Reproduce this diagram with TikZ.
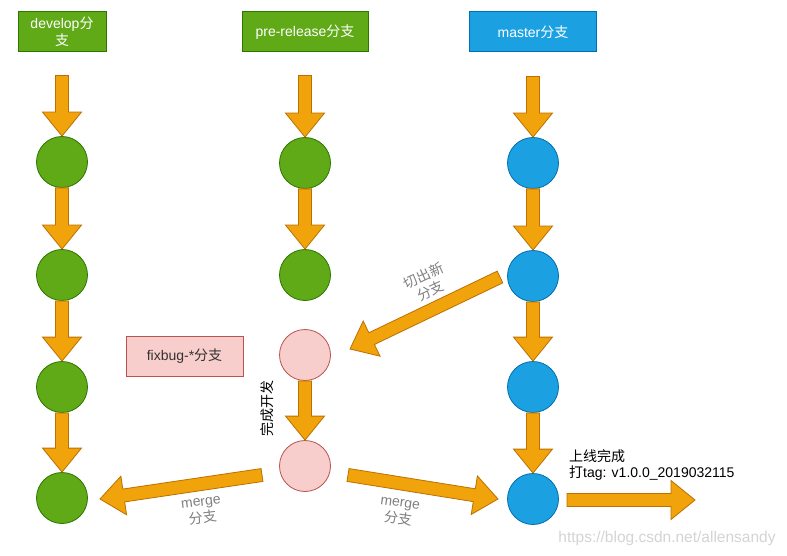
\documentclass[tikz,border=0pt]{standalone}
\usepackage{fontspec}
\setmainfont{Liberation Sans}
\newfontfamily\cjk{Noto Sans CJK SC}
\usetikzlibrary{calc}
\definecolor{gfill}{HTML}{60A917}
\definecolor{gline}{HTML}{2D7600}
\definecolor{bfill}{HTML}{1BA1E2}
\definecolor{bline}{HTML}{006EAF}
\definecolor{pfill}{HTML}{F8CECC}
\definecolor{pline}{HTML}{B85450}
\definecolor{ofill}{HTML}{F0A30A}
\definecolor{oline}{HTML}{BD7000}
\definecolor{lgray}{HTML}{808080}
\definecolor{wmark}{HTML}{D4D4D4}
\tikzset{
  txt/.style={font=\fontsize{14}{16.5}\selectfont, inner sep=0pt, align=center},
  header/.style={txt, minimum height=40pt, text=white, line width=1pt},
  greenhdr/.style={header, fill=gfill, draw=gline},
  bluehdr/.style={header, fill=bfill, draw=bline},
  commit/.style={circle, minimum size=51pt, inner sep=0pt, line width=0.8pt},
  gc/.style={commit, fill=gfill, draw=gline},
  bc/.style={commit, fill=bfill, draw=bline},
  pc/.style={commit, fill=pfill, draw=pline},
  barrowstyle/.style={fill=ofill, draw=oline, line width=0.8pt, line join=miter},
  glabel/.style={txt, text=lgray},
}
% block arrow from #2 to #3 (tip at #3)
\newcommand\barrow[3][]{%
  \coordinate (ba-b) at ($(#3)!24pt!(#2)$);
  \draw[barrowstyle,#1]
    ($(#2)!6.5pt!90:(#3)$) -- ($(ba-b)!6.5pt!90:(#3)$) -- ($(ba-b)!19.5pt!90:(#3)$)
    -- (#3) -- ($(ba-b)!19.5pt!-90:(#3)$) -- ($(ba-b)!6.5pt!-90:(#3)$)
    -- ($(#2)!6.5pt!-90:(#3)$) -- cycle;}
\begin{document}
\begin{tikzpicture}[x=1pt,y=-1pt]
\useasboundingbox (0,0) rectangle (787,556);
\fill[white] (0,0) rectangle (787,556);
% headers
\node[greenhdr, minimum width=88pt] (dh) at (62,32) {develop{\cjk 分}\\{\cjk 支}};
\node[greenhdr, minimum width=126pt] (ph) at (305,32) {pre-release{\cjk 分支}};
\node[bluehdr, minimum width=127pt] (mh) at (533,32) {master{\cjk 分支}};
% commits
\node[gc] (d1) at (62,162) {};
\node[gc] (d2) at (62,275) {};
\node[gc] (d3) at (62,387) {};
\node[gc] (d4) at (62,498) {};
\node[gc] (p1) at (305,163) {};
\node[gc] (p2) at (305,275) {};
\node[pc] (f1) at (305,355) {};
\node[pc] (f2) at (305,466) {};
\node[bc] (m1) at (533,163) {};
\node[bc] (m2) at (533,276) {};
\node[bc] (m3) at (533,387) {};
\node[bc] (m4) at (533,499) {};
% fixbug box
\node[txt, fill=pfill, draw=pline, line width=1pt, minimum width=117pt, minimum height=40pt, text=black!80] (fx) at (184.5,356) {fixbug-*{\cjk 分支}};
% top arrows
\coordinate (dt) at ($(dh.south)+(0,23)$);
\coordinate (pt) at ($(ph.south)+(0,23)$);
\coordinate (mt) at ($(mh.south)+(0,24)$);
\barrow{dt}{d1.north}
\barrow{pt}{p1.north}
\barrow{mt}{m1.north}
% column arrows
\barrow{d1.south}{d2.north}
\barrow{d2.south}{d3.north}
\barrow{d3.south}{d4.north}
\barrow{p1.south}{p2.north}
\barrow{f1.south}{f2.north}
\barrow{m1.south}{m2.north}
\barrow{m2.south}{m3.north}
\barrow{m3.south}{m4.north}
% cut new branch
\coordinate (ca) at (500,277);
\coordinate (cb) at (350,349);
\barrow{ca}{cb}
\node[glabel, rotate=25] (lcut) at (427,283) {{\cjk 切出新}\\{\cjk 分支}};
% merges
\coordinate (la) at (262,475);
\coordinate (lb) at (100,499);
\barrow{la}{lb}
\coordinate (ra) at (348,475);
\coordinate (rb) at (498,499);
\barrow{ra}{rb}
\node[glabel, rotate=7] (lm1) at (202,511) {merge\\{\cjk 分支}};
\node[glabel, rotate=-8] (lm2) at (399,512) {merge\\{\cjk 分支}};
% finish dev
\node[txt, rotate=90, text=black] (fin) at (267,408) {\cjk 完成开发};
% release
\coordinate (ta) at (567,500);
\coordinate (tb) at (695,500);
\barrow{ta}{tb}
\node[txt, anchor=west, align=left, text=black] (rel) at (569,465) {{\cjk 上线完成}\\{\cjk 打}tag: v1.0.0\_2019032115};
% watermark
\node[txt, text=wmark, font=\fontsize{15.5}{17}\selectfont] (wm) at (667,538) {https://blog.csdn.net/allensandy};
\end{tikzpicture}
\end{document}
